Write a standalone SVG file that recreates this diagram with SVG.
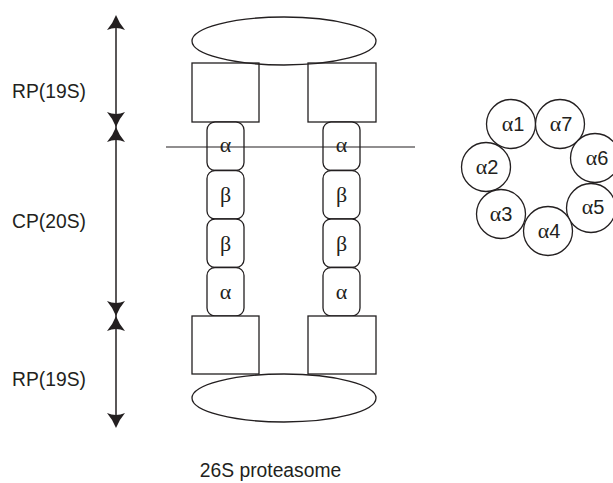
<svg xmlns="http://www.w3.org/2000/svg" width="613" height="483" viewBox="0 0 613 483">
<style>
.s{fill:#fff;stroke:#231f20;stroke-width:1.3}
.t{fill:#fff;stroke:#231f20;stroke-width:1.3}
.lab{font-family:"Liberation Sans",Arial,sans-serif;font-size:19.3px;fill:#231f20}
.gk{font-family:"Liberation Serif","Times New Roman",serif;font-size:22px;fill:#231f20}
.ck{font-family:"Liberation Serif","Times New Roman",serif;font-size:22px;fill:#231f20}
.num{font-family:"Liberation Sans",Arial,sans-serif;font-size:20px}
.ln{stroke:#231f20;stroke-width:1.5;fill:none}
</style>
<defs>
<path id="ah" d="M0,0 Q-3,-8 -9,-15 Q0,-11 9,-15 Q3,-8 0,0 Z" fill="#231f20"/>
</defs>
<rect width="613" height="483" fill="#fff"/>

<g id="connectors">
<line class="ln" x1="116" y1="18" x2="116" y2="425"/>
<use href="#ah" transform="translate(116,15) rotate(180)"/>
<use href="#ah" transform="translate(116,127)"/>
<use href="#ah" transform="translate(116,127) rotate(180)"/>
<use href="#ah" transform="translate(116,316)"/>
<use href="#ah" transform="translate(116,316) rotate(180)"/>
<use href="#ah" transform="translate(116,428)"/>
</g>

<g id="labels">
<text class="lab" x="12" y="97.5">RP(19S)</text>
<text class="lab" x="12" y="227.5">CP(20S)</text>
<text class="lab" x="12" y="386">RP(19S)</text>
<text class="lab" x="270.5" y="477" text-anchor="middle">26S proteasome</text>
</g>

<g id="rp-top">
<rect class="s" x="192" y="63" width="67" height="59"/>
<rect class="s" x="308" y="63" width="68" height="59"/>
<ellipse class="s" cx="284" cy="41" rx="92" ry="24" style="fill:none"/>
</g>

<g id="cp-left">
<rect class="t" x="207" y="122" width="37" height="48.5" rx="8"/>
<rect class="t" x="207" y="170.5" width="37" height="48.5" rx="8"/>
<rect class="t" x="207" y="219" width="37" height="48.5" rx="8"/>
<rect class="t" x="207" y="267.5" width="37" height="48.5" rx="8"/>
<text class="gk" x="225.5" y="152" text-anchor="middle">α</text>
<text class="gk" x="225.5" y="202" text-anchor="middle">β</text>
<text class="gk" x="225.5" y="250.5" text-anchor="middle">β</text>
<text class="gk" x="225.5" y="298.5" text-anchor="middle">α</text>
</g>

<g id="cp-right">
<rect class="t" x="323" y="122" width="37" height="48.5" rx="8"/>
<rect class="t" x="323" y="170.5" width="37" height="48.5" rx="8"/>
<rect class="t" x="323" y="219" width="37" height="48.5" rx="8"/>
<rect class="t" x="323" y="267.5" width="37" height="48.5" rx="8"/>
<text class="gk" x="341.5" y="152" text-anchor="middle">α</text>
<text class="gk" x="341.5" y="202" text-anchor="middle">β</text>
<text class="gk" x="341.5" y="250.5" text-anchor="middle">β</text>
<text class="gk" x="341.5" y="298.5" text-anchor="middle">α</text>
</g>

<g id="rp-bottom">
<rect class="s" x="192" y="316" width="67" height="58"/>
<rect class="s" x="308" y="316" width="68" height="58"/>
<ellipse class="s" cx="284" cy="398" rx="92" ry="24" style="fill:none"/>
</g>

<g id="cut-line">
<line x1="166" y1="147" x2="415" y2="147" stroke="#231f20" stroke-width="1.2"/>
</g>

<g id="alpha-ring">
<g id="a1"><circle class="s" cx="511" cy="124" r="24.5"/><text class="ck" x="513" y="131" text-anchor="middle">α<tspan class="num">1</tspan></text></g>
<g id="a7"><circle class="s" cx="560" cy="124" r="24.5"/><text class="ck" x="561" y="131" text-anchor="middle">α<tspan class="num">7</tspan></text></g>
<g id="a6"><circle class="s" cx="595" cy="158" r="24.5"/><text class="ck" x="597" y="165" text-anchor="middle">α<tspan class="num">6</tspan></text></g>
<g id="a2"><circle class="s" cx="486" cy="167" r="24.5"/><text class="ck" x="487" y="174" text-anchor="middle">α<tspan class="num">2</tspan></text></g>
<g id="a5"><circle class="s" cx="591" cy="208" r="24.5"/><text class="ck" x="593" y="214" text-anchor="middle">α<tspan class="num">5</tspan></text></g>
<g id="a3"><circle class="s" cx="501" cy="214" r="24.5"/><text class="ck" x="501" y="221" text-anchor="middle">α<tspan class="num">3</tspan></text></g>
<g id="a4"><circle class="s" cx="548" cy="231" r="24.5"/><text class="ck" x="549" y="238" text-anchor="middle">α<tspan class="num">4</tspan></text></g>
</g>
</svg>
